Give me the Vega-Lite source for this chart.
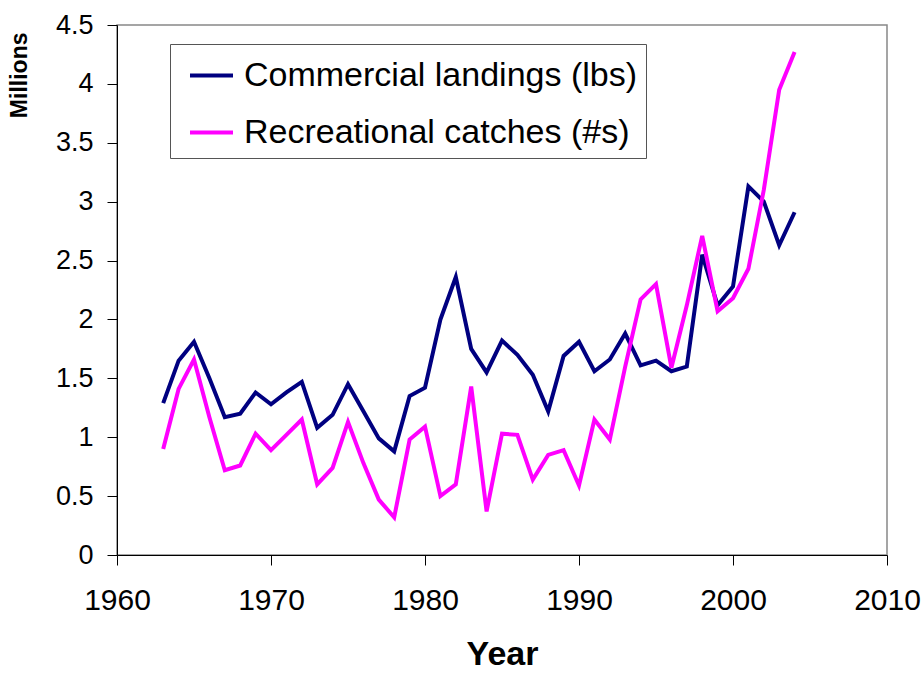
{
  "$schema": "https://vega.github.io/schema/vega-lite/v6.json",
  "autosize": "none",
  "width": 770,
  "height": 530,
  "padding": {"left": 117, "top": 25, "right": 37, "bottom": 122},
  "background": "white",
  "config": {
    "font": "Liberation Sans",
    "view": {"stroke": "#888888", "strokeWidth": 1.5},
    "axis": {"grid": false, "domainColor": "black", "tickColor": "black", "labelColor": "black", "titleColor": "black", "labelFont": "Liberation Sans", "titleFont": "Liberation Sans"}
  },
  "data": {
    "values": [
      {"series": "Commercial landings (lbs)", "year": 1963, "value": 1.29},
      {"series": "Commercial landings (lbs)", "year": 1964, "value": 1.65},
      {"series": "Commercial landings (lbs)", "year": 1965, "value": 1.81},
      {"series": "Commercial landings (lbs)", "year": 1966, "value": 1.50},
      {"series": "Commercial landings (lbs)", "year": 1967, "value": 1.17},
      {"series": "Commercial landings (lbs)", "year": 1968, "value": 1.20},
      {"series": "Commercial landings (lbs)", "year": 1969, "value": 1.38},
      {"series": "Commercial landings (lbs)", "year": 1970, "value": 1.28},
      {"series": "Commercial landings (lbs)", "year": 1971, "value": 1.38},
      {"series": "Commercial landings (lbs)", "year": 1972, "value": 1.47},
      {"series": "Commercial landings (lbs)", "year": 1973, "value": 1.08},
      {"series": "Commercial landings (lbs)", "year": 1974, "value": 1.19},
      {"series": "Commercial landings (lbs)", "year": 1975, "value": 1.45},
      {"series": "Commercial landings (lbs)", "year": 1976, "value": 1.22},
      {"series": "Commercial landings (lbs)", "year": 1977, "value": 0.99},
      {"series": "Commercial landings (lbs)", "year": 1978, "value": 0.88},
      {"series": "Commercial landings (lbs)", "year": 1979, "value": 1.35},
      {"series": "Commercial landings (lbs)", "year": 1980, "value": 1.42},
      {"series": "Commercial landings (lbs)", "year": 1981, "value": 2.00},
      {"series": "Commercial landings (lbs)", "year": 1982, "value": 2.36},
      {"series": "Commercial landings (lbs)", "year": 1983, "value": 1.75},
      {"series": "Commercial landings (lbs)", "year": 1984, "value": 1.55},
      {"series": "Commercial landings (lbs)", "year": 1985, "value": 1.82},
      {"series": "Commercial landings (lbs)", "year": 1986, "value": 1.70},
      {"series": "Commercial landings (lbs)", "year": 1987, "value": 1.53},
      {"series": "Commercial landings (lbs)", "year": 1988, "value": 1.22},
      {"series": "Commercial landings (lbs)", "year": 1989, "value": 1.69},
      {"series": "Commercial landings (lbs)", "year": 1990, "value": 1.81},
      {"series": "Commercial landings (lbs)", "year": 1991, "value": 1.56},
      {"series": "Commercial landings (lbs)", "year": 1992, "value": 1.66},
      {"series": "Commercial landings (lbs)", "year": 1993, "value": 1.88},
      {"series": "Commercial landings (lbs)", "year": 1994, "value": 1.61},
      {"series": "Commercial landings (lbs)", "year": 1995, "value": 1.65},
      {"series": "Commercial landings (lbs)", "year": 1996, "value": 1.56},
      {"series": "Commercial landings (lbs)", "year": 1997, "value": 1.60},
      {"series": "Commercial landings (lbs)", "year": 1998, "value": 2.55},
      {"series": "Commercial landings (lbs)", "year": 1999, "value": 2.12},
      {"series": "Commercial landings (lbs)", "year": 2000, "value": 2.28},
      {"series": "Commercial landings (lbs)", "year": 2001, "value": 3.13},
      {"series": "Commercial landings (lbs)", "year": 2002, "value": 3.00},
      {"series": "Commercial landings (lbs)", "year": 2003, "value": 2.63},
      {"series": "Commercial landings (lbs)", "year": 2004, "value": 2.91},
      {"series": "Recreational catches (#s)", "year": 1963, "value": 0.90},
      {"series": "Recreational catches (#s)", "year": 1964, "value": 1.41},
      {"series": "Recreational catches (#s)", "year": 1965, "value": 1.66},
      {"series": "Recreational catches (#s)", "year": 1966, "value": 1.17},
      {"series": "Recreational catches (#s)", "year": 1967, "value": 0.72},
      {"series": "Recreational catches (#s)", "year": 1968, "value": 0.76},
      {"series": "Recreational catches (#s)", "year": 1969, "value": 1.03},
      {"series": "Recreational catches (#s)", "year": 1970, "value": 0.89},
      {"series": "Recreational catches (#s)", "year": 1971, "value": 1.02},
      {"series": "Recreational catches (#s)", "year": 1972, "value": 1.15},
      {"series": "Recreational catches (#s)", "year": 1973, "value": 0.60},
      {"series": "Recreational catches (#s)", "year": 1974, "value": 0.74},
      {"series": "Recreational catches (#s)", "year": 1975, "value": 1.13},
      {"series": "Recreational catches (#s)", "year": 1976, "value": 0.78},
      {"series": "Recreational catches (#s)", "year": 1977, "value": 0.47},
      {"series": "Recreational catches (#s)", "year": 1978, "value": 0.32},
      {"series": "Recreational catches (#s)", "year": 1979, "value": 0.98},
      {"series": "Recreational catches (#s)", "year": 1980, "value": 1.09},
      {"series": "Recreational catches (#s)", "year": 1981, "value": 0.50},
      {"series": "Recreational catches (#s)", "year": 1982, "value": 0.60},
      {"series": "Recreational catches (#s)", "year": 1983, "value": 1.43},
      {"series": "Recreational catches (#s)", "year": 1984, "value": 0.37},
      {"series": "Recreational catches (#s)", "year": 1985, "value": 1.03},
      {"series": "Recreational catches (#s)", "year": 1986, "value": 1.02},
      {"series": "Recreational catches (#s)", "year": 1987, "value": 0.64},
      {"series": "Recreational catches (#s)", "year": 1988, "value": 0.85},
      {"series": "Recreational catches (#s)", "year": 1989, "value": 0.89},
      {"series": "Recreational catches (#s)", "year": 1990, "value": 0.59},
      {"series": "Recreational catches (#s)", "year": 1991, "value": 1.15},
      {"series": "Recreational catches (#s)", "year": 1992, "value": 0.98},
      {"series": "Recreational catches (#s)", "year": 1993, "value": 1.60},
      {"series": "Recreational catches (#s)", "year": 1994, "value": 2.17},
      {"series": "Recreational catches (#s)", "year": 1995, "value": 2.30},
      {"series": "Recreational catches (#s)", "year": 1996, "value": 1.59},
      {"series": "Recreational catches (#s)", "year": 1997, "value": 2.12},
      {"series": "Recreational catches (#s)", "year": 1998, "value": 2.71},
      {"series": "Recreational catches (#s)", "year": 1999, "value": 2.07},
      {"series": "Recreational catches (#s)", "year": 2000, "value": 2.18},
      {"series": "Recreational catches (#s)", "year": 2001, "value": 2.43},
      {"series": "Recreational catches (#s)", "year": 2002, "value": 3.10},
      {"series": "Recreational catches (#s)", "year": 2003, "value": 3.95},
      {"series": "Recreational catches (#s)", "year": 2004, "value": 4.27}
    ]
  },
  "mark": {"type": "line", "strokeWidth": 4, "strokeJoin": "miter"},
  "encoding": {
    "x": {
      "field": "year", "type": "quantitative",
      "scale": {"domain": [1960, 2010], "nice": false, "zero": false},
      "axis": {"values": [1960, 1970, 1980, 1990, 2000, 2010], "format": "d", "title": "Year", "titleFontSize": 34, "titleFontWeight": "bold", "titlePadding": 22, "labelFontSize": 30, "labelPadding": 20, "tickSize": 10, "labelFlush": false, "labelOverlap": false}
    },
    "y": {
      "field": "value", "type": "quantitative",
      "scale": {"domain": [0, 4.5], "nice": false},
      "axis": {"values": [0, 0.5, 1, 1.5, 2, 2.5, 3, 3.5, 4, 4.5], "format": "~g", "title": "Millions", "titleFontSize": 23, "titleFontWeight": "bold", "titleAnchor": "end", "titlePadding": 24, "titleY": 7, "labelFontSize": 27, "labelPadding": 14, "tickSize": 10, "labelFlush": false, "labelOverlap": false}
    },
    "color": {
      "field": "series", "type": "nominal",
      "sort": ["Commercial landings (lbs)", "Recreational catches (#s)"],
      "scale": {"domain": ["Commercial landings (lbs)", "Recreational catches (#s)"], "range": ["#000080", "#FF00FF"]},
      "legend": {
        "title": null, "orient": "none", "legendX": 53, "legendY": 19,
        "symbolType": "M-1,0H1", "symbolSize": 1849, "symbolStrokeWidth": 4,
        "labelFontSize": 34, "labelColor": "black", "labelFont": "Liberation Sans", "labelLimit": 600,
        "rowPadding": 16, "padding": 8, "labelOffset": 9, "symbolOffset": 10,
        "strokeColor": "#555555", "fillColor": "white"
      }
    }
  }
}
